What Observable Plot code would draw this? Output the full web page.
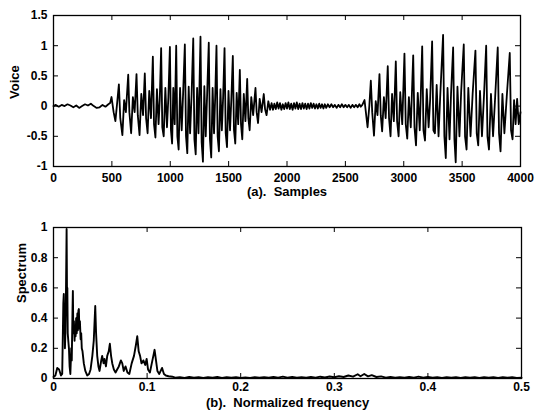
<!DOCTYPE html>
<html>
<head>
<meta charset="utf-8">
<script src="https://cdn.jsdelivr.net/npm/d3@7"></script>
<script src="https://cdn.jsdelivr.net/npm/@observablehq/plot@0.6"></script>
<style>
  html, body { margin: 0; padding: 0; background: #fff; }
  #chart { width: 538px; height: 413px; overflow: hidden; }
  #chart svg { display: block; }
</style>
</head>
<body>
<div id="chart"></div>
<script>
// ---------- Data ----------
const voiceXTicks = [0, 500, 1000, 1500, 2000, 2500, 3000, 3500, 4000];
const voiceYTicks = [-1, -0.5, 0, 0.5, 1, 1.5];
const specXTicks = [0, 0.1, 0.2, 0.3, 0.4, 0.5];
const specYTicks = [0, 0.2, 0.4, 0.6, 0.8, 1];

// voice waveform, [sample, value]
const silence1 = [[0,0],[20,0.02],[45,-0.01],[70,0.02],[95,0],[120,0.03],[145,0.01],[170,-0.02],[195,0.01],[220,-0.03],[245,0],[270,0.03],[295,0.01],[320,0.04],[345,0],[370,-0.03],[395,-0.02],[420,0.02],[445,-0.01],[470,0.03],[485,0.05]];

const voiced1 = [
[497,0.15],[515,-0.1],[530,-0.25],[545,0.05],
[560,0.36],[572,-0.2],[590,-0.48],[605,0.1],[620,-0.1],
[640,0.52],[650,-0.1],[665,-0.45],[680,0.15],[695,-0.1],
[711,0.53],[722,-0.15],[737,-0.48],[752,0.2],[767,-0.15],
[782,0.54],[793,-0.2],[806,-0.45],[820,0.25],[835,-0.2],
[851,0.82],[861,-0.3],[873,-0.52],[886,0.28],[900,-0.3],[910,0.1],
[922,0.96],[932,-0.35],[944,-0.5],[958,0.3],[972,-0.35],[984,0.15],
[997,0.98],[1006,-0.4],[1016,-0.62],[1026,0.3],[1038,-0.3],
[1051,1.0],[1061,-0.5],[1072,-0.72],[1084,0.3],[1098,-0.4],[1110,0.2],
[1125,1.02],[1135,-0.5],[1146,-0.78],[1158,0.32],[1170,-0.45],[1183,0.2],
[1197,1.12],[1207,-0.55],[1218,-0.8],[1230,0.3],[1242,-0.45],
[1259,1.15],[1269,-0.6],[1280,-0.92],[1292,0.33],[1304,-0.5],[1316,0.2],
[1330,1.05],[1340,-0.55],[1351,-0.85],[1363,0.3],[1375,-0.45],[1385,0.15],
[1396,1.0],[1406,-0.5],[1417,-0.75],[1430,0.28],[1442,-0.4],[1453,0.15],
[1465,0.96],[1475,-0.45],[1486,-0.68],[1499,0.25],[1512,-0.4],[1523,0.1],
[1536,0.83],[1546,-0.4],[1557,-0.62],[1569,0.22],[1582,-0.3],
[1596,0.6],[1606,-0.3],[1617,-0.55],[1630,0.2],[1644,-0.25],
[1659,0.45],[1669,-0.2],[1680,-0.4],[1694,0.15],[1710,-0.15],
[1730,0.3],[1740,-0.1],[1752,-0.28],[1766,0.12],[1782,-0.1],
[1801,0.2],[1812,-0.05],[1825,-0.15],[1840,0.08],[1855,-0.06]];

const silence2 = [
[1868,0.05],[1880,-0.06],[1892,0.04],[1904,-0.05],[1916,0.06],[1928,-0.04],[1940,0.05],[1952,-0.06],[1964,0.03],[1976,-0.05],
[1988,0.05],[2000,-0.04],[2012,0.06],[2024,-0.05],[2036,0.04],[2048,-0.06],[2060,0.05],[2072,-0.04],[2084,0.06],[2096,-0.05],
[2108,0.04],[2120,-0.05],[2132,0.05],[2144,-0.04],[2156,0.04],[2168,-0.05],[2180,0.04],[2192,-0.04],[2204,0.05],[2216,-0.03],
[2228,0.04],[2240,-0.04],[2252,0.03],[2264,-0.04],[2276,0.04],[2288,-0.03],[2300,0.03],[2312,-0.04],[2324,0.03],[2336,-0.03],
[2350,0.03],[2365,-0.02],[2380,0.03],[2395,-0.02],[2410,0.02],[2425,-0.03],[2440,0.02],[2455,-0.02],[2470,0.03],[2485,-0.02],
[2500,0.02],[2515,-0.02],[2530,0.02],[2545,-0.03],[2560,0.02],[2575,-0.02],[2590,0.02],[2605,-0.02],[2620,0.03],[2632,-0.01]];

const voiced2 = [
[2645,0.02],[2664,0.1],[2690,-0.35],[2705,0.0],
[2718,0.42],[2730,-0.1],[2745,-0.49],[2760,0.08],[2775,-0.15],
[2792,0.53],[2803,-0.15],[2815,-0.42],[2830,0.15],[2845,-0.2],
[2863,0.66],[2874,-0.2],[2887,-0.5],[2900,0.2],[2915,-0.25],
[2932,0.74],[2943,-0.25],[2956,-0.5],[2970,0.23],[2987,-0.3],
[3006,0.87],[3017,-0.3],[3030,-0.54],[3044,0.15],[3060,-0.35],
[3081,0.84],[3092,-0.35],[3105,-0.65],[3120,0.22],[3137,-0.4],
[3158,0.99],[3169,-0.4],[3182,-0.57],[3197,0.28],[3213,-0.35],[3226,0.1],
[3243,1.07],[3254,-0.4],[3267,-0.45],[3282,0.35],[3298,-0.5],[3312,0.15],
[3337,1.18],[3348,-0.5],[3360,-0.86],[3375,0.3],[3392,-0.55],[3405,0.2],
[3423,0.97],[3434,-0.55],[3445,-0.93],[3460,0.32],[3477,-0.5],[3492,0.25],
[3514,1.02],[3525,-0.5],[3538,-0.72],[3553,0.3],[3572,-0.5],[3590,0.2],
[3614,0.92],[3625,-0.45],[3638,-0.65],[3653,0.25],[3670,-0.5],[3688,0.2],
[3706,1.0],[3717,-0.5],[3730,-0.72],[3747,0.2],[3765,-0.5],[3783,0.15],
[3805,0.97],[3816,-0.45],[3829,-0.75],[3845,0.2],[3862,-0.45],[3882,0.15],
[3908,0.88],[3919,-0.4],[3932,-0.55],[3945,0.1],[3958,-0.3],
[3971,0.12],[3985,-0.3],[4000,-0.1]];

// spectrum, [normalized frequency, magnitude]
const specLow = [
[0,0.01],[0.002,0.02],[0.004,0.07],[0.006,0.06],[0.008,0.02],
[0.0093,0.03],[0.01,0.3],[0.0105,0.5],[0.011,0.56],[0.0115,0.35],[0.0118,0.45],[0.0122,0.2],[0.0127,0.3],[0.0132,0.5],[0.0137,0.8],
[0.014,0.99],[0.0145,0.5],[0.0148,0.6],[0.0152,0.3],[0.0158,0.25],[0.0165,0.2],[0.0172,0.08],
[0.018,0.03],[0.019,0.2],[0.0195,0.12],[0.0203,0.45],[0.0207,0.58],[0.0212,0.3],[0.0218,0.38],[0.0225,0.25],[0.023,0.35],[0.0236,0.28],
[0.0242,0.4],[0.0248,0.3],[0.0255,0.43],[0.026,0.32],[0.0266,0.45],[0.0271,0.46],[0.0276,0.33],[0.0282,0.38],[0.029,0.26],[0.0296,0.3],
[0.0302,0.2],[0.031,0.18],
[0.0324,0.1],[0.034,0.05],[0.036,0.02],[0.038,0.03],[0.0396,0.06],[0.0415,0.15],[0.043,0.25],[0.0446,0.48],[0.0455,0.3],[0.0467,0.15],
[0.048,0.08],[0.0492,0.05],[0.051,0.12],[0.052,0.15],[0.0535,0.1],[0.0545,0.13],[0.056,0.08],[0.0574,0.15],[0.059,0.18],[0.0602,0.23],
[0.0615,0.15],[0.0628,0.1],[0.0645,0.06],[0.0663,0.04],[0.068,0.06],[0.0698,0.08],[0.072,0.12],[0.0735,0.1],[0.075,0.05],[0.077,0.08],
[0.079,0.04],[0.081,0.03],[0.0835,0.1],[0.086,0.15],[0.088,0.22],[0.0895,0.28],[0.091,0.18],[0.0925,0.15],[0.094,0.1],[0.096,0.12],
[0.098,0.09],[0.0995,0.13],[0.101,0.06],[0.103,0.04],[0.105,0.1],[0.107,0.16],[0.108,0.19],[0.1095,0.12],[0.111,0.05],[0.113,0.03],
[0.116,0.07],[0.118,0.03],[0.12,0.02],[0.123,0.015],[0.127,0.012],[0.13,0.006]];

const specTail = [
[0.135,0.008],[0.14,0.004],[0.145,0.01],[0.15,0.005],[0.155,0.009],[0.16,0.004],[0.165,0.008],[0.17,0.005],[0.175,0.01],[0.18,0.004],
[0.185,0.008],[0.19,0.005],[0.195,0.009],[0.2,0.004],[0.205,0.007],[0.21,0.004],[0.215,0.008],[0.22,0.005],[0.225,0.009],[0.23,0.005],
[0.235,0.01],[0.24,0.006],[0.245,0.012],[0.25,0.006],[0.255,0.011],[0.26,0.005],[0.265,0.009],[0.27,0.005],[0.275,0.01],[0.28,0.006],
[0.285,0.012],[0.29,0.007],[0.295,0.013],[0.3,0.008],[0.305,0.015],[0.31,0.01],[0.315,0.02],[0.32,0.012],[0.325,0.028],[0.328,0.015],
[0.332,0.03],[0.336,0.014],[0.34,0.022],[0.345,0.01],[0.35,0.014],[0.355,0.006],[0.36,0.01],[0.365,0.005],[0.37,0.009],[0.375,0.005],
[0.38,0.01],[0.385,0.006],[0.39,0.012],[0.395,0.006],[0.4,0.011],[0.405,0.005],[0.41,0.009],[0.415,0.004],[0.42,0.008],[0.425,0.005],
[0.43,0.008],[0.435,0.004],[0.44,0.008],[0.445,0.005],[0.45,0.009],[0.455,0.004],[0.46,0.008],[0.465,0.005],[0.47,0.009],[0.475,0.004],
[0.48,0.008],[0.485,0.005],[0.49,0.008],[0.495,0.004],[0.5,0.006]];

// ---------- Drawing ----------
const voice = [...silence1, ...voiced1, ...silence2, ...voiced2];
const spectrum = [...specLow, ...specTail];

const fmt = d => String(d);
const chartStyle = {fontFamily: "'Liberation Sans', Arial, Helvetica, sans-serif", fontSize: "12px", fontWeight: "bold", color: "black", background: "white"};
const TICK = 5;

function panel({data, xDomain, yDomain, xTicks, yTicks, height, marginTop, marginBottom, marginRight, yLabel, yLabelDx, yLabelDy, xLabel, xLabelDy, xPad, lineWidth}) {
  const marginLeft = 53;
  const width = 538;
  const innerW = width - marginLeft - marginRight;
  const innerH = height - marginTop - marginBottom;
  return Plot.plot({
    width, height, marginTop, marginBottom, marginLeft, marginRight,
    style: chartStyle,
    x: {domain: xDomain},
    y: {domain: yDomain},
    marks: [
      Plot.line(data, {x: d => d[0], y: d => d[1], stroke: "black", strokeWidth: lineWidth, strokeLinejoin: "round"}),
      Plot.tickX(xTicks, {x: d => d, insetTop: innerH - TICK, stroke: "black"}),
      Plot.tickX(xTicks, {x: d => d, insetBottom: innerH - TICK, stroke: "black"}),
      Plot.tickY(yTicks, {y: d => d, insetRight: innerW - TICK, stroke: "black"}),
      Plot.tickY(yTicks, {y: d => d, insetLeft: innerW - TICK, stroke: "black"}),
      Plot.axisX(xTicks, {tickSize: 0, tickPadding: xPad, tickFormat: fmt, label: null, fontSize: 12}),
      Plot.axisY(yTicks, {tickSize: 0, tickPadding: 6, tickFormat: fmt, label: null, fontSize: 12}),
      Plot.frame({stroke: "black", strokeWidth: 1.3}),
      Plot.text([yLabel], {frameAnchor: "left", dx: yLabelDx, dy: yLabelDy, rotate: -90, fontSize: 13, text: d => d}),
      Plot.text([xLabel], {frameAnchor: "bottom", dy: xLabelDy, fontSize: 13, text: d => d})
    ]
  });
}

const topPanel = panel({
  data: voice, xDomain: [0, 4000], yDomain: [-1, 1.5], xTicks: voiceXTicks, yTicks: voiceYTicks,
  height: 200, marginTop: 15, marginBottom: 34, marginRight: 18,
  yLabel: "Voice", yLabelDx: -39, yLabelDy: 8,
  xLabel: "(a).\u00a0 Samples", xLabelDy: 29, xPad: 7, lineWidth: 1.8
});
const bottomPanel = panel({
  data: spectrum, xDomain: [0, 0.5], yDomain: [0, 1], xTicks: specXTicks, yTicks: specYTicks,
  height: 213, marginTop: 27, marginBottom: 35, marginRight: 17,
  yLabel: "Spectrum", yLabelDx: -32, yLabelDy: 0,
  xLabel: "(b).\u00a0 Normalized frequency", xLabelDy: 28, xPad: 4, lineWidth: 1.9
});
const el = document.getElementById("chart");
el.appendChild(topPanel);
el.appendChild(bottomPanel);
</script>
</body>
</html>
